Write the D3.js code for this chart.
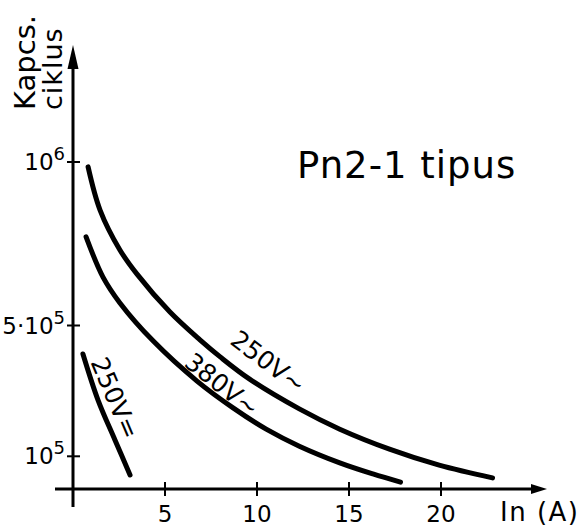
<!DOCTYPE html>
<html>
<head>
<meta charset="utf-8">
<script src="https://cdn.jsdelivr.net/npm/d3@7"></script>
<style>
  body { margin: 0; background: #fff; }
  svg { display: block; }
  text { font-family: "DejaVu Sans", sans-serif; fill: #000; }
</style>
</head>
<body>
<svg id="chart" width="585" height="527"></svg>
<script>
// tick values and labels
const xTicks = [5, 10, 15, 20];
const yTicks = [1e6, 5e5, 1e5];
const yTickBase = ['10', '5·10', '10'];
const yTickExp = ['6', '5', '5'];

// curves: current In (A) vs. switching cycles
const seriesNames = ['250V~', '380V~', '250V='];
const ac250Current = [0.82, 1.47, 2.55, 3.48, 5.27, 6.9, 8.0, 9.6, 12.3, 14.5, 17.2, 19.9, 22.8];
const ac250Cycles = [985000, 853000, 731000, 657000, 541000, 456000, 404000, 336000, 245000, 183000, 122000, 73000, 34000];
const ac380Current = [0.71, 1.63, 2.55, 4.35, 6.74, 8.7, 10.5, 12.3, 14.5, 16.3, 17.8];
const ac380Cycles = [771000, 648000, 569000, 453000, 330000, 248000, 183000, 131000, 80000, 46000, 21000];
const dc250Current = [0.54, 1.36, 2.28, 3.1];
const dc250Cycles = [413000, 272000, 150000, 43000];

const svg = d3.select('#chart');

const x = d3.scaleLinear().domain([0, 20]).range([73, 441]);
const y = d3.scaleLinear().domain([0, 1e6]).range([489, 162]);

const x0 = x(0), y0 = y(0);
const xEnd = 547, yTop = 45;

// axes lines with arrows
svg.append('line')
  .attr('x1', x0 - 18).attr('y1', y0).attr('x2', xEnd - 8).attr('y2', y0)
  .attr('stroke', '#000').attr('stroke-width', 3);
svg.append('path')
  .attr('d', `M${xEnd},${y0} L${xEnd - 16},${y0 - 5} L${xEnd - 16},${y0 + 5} Z`)
  .attr('fill', '#000');

svg.append('line')
  .attr('x1', x0).attr('y1', y0 + 18).attr('x2', x0).attr('y2', yTop + 12)
  .attr('stroke', '#000').attr('stroke-width', 3);
svg.append('path')
  .attr('d', `M${x0},${yTop} L${x0 - 5.5},${yTop + 24} L${x0 + 5.5},${yTop + 24} Z`)
  .attr('fill', '#000');

// x ticks
const xAxis = svg.append('g');
xTicks.forEach((t) => {
  xAxis.append('line')
    .attr('x1', x(t)).attr('x2', x(t)).attr('y1', y0 - 7).attr('y2', y0 + 7)
    .attr('stroke', '#000').attr('stroke-width', 2);
  xAxis.append('text')
    .attr('x', x(t)).attr('y', 522)
    .attr('text-anchor', 'middle')
    .attr('font-size', 23)
    .text(t);
});

// y ticks
const yAxis = svg.append('g');
yTicks.forEach((t, i) => {
  yAxis.append('line')
    .attr('x1', x0 - 6).attr('x2', x0 + 7).attr('y1', y(t)).attr('y2', y(t))
    .attr('stroke', '#000').attr('stroke-width', 2);
  const lbl = yAxis.append('text')
    .attr('x', x0 - 8).attr('y', y(t) + 8)
    .attr('text-anchor', 'end')
    .attr('font-size', 23);
  lbl.append('tspan').text(yTickBase[i]);
  lbl.append('tspan').attr('dy', -10).attr('font-size', 18).text(yTickExp[i]);
});

// axis titles
svg.append('text')
  .attr('transform', 'translate(35,110) rotate(-90)')
  .attr('text-anchor', 'start')
  .attr('font-size', 29)
  .text('Kapcs.');
svg.append('text')
  .attr('transform', 'translate(62,110) rotate(-90)')
  .attr('text-anchor', 'start')
  .attr('font-size', 27)
  .attr('letter-spacing', 1)
  .text('ciklus');

svg.append('text')
  .attr('x', 500).attr('y', 521)
  .attr('font-size', 26)
  .attr('letter-spacing', 1.5)
  .text('In (A)');

svg.append('text')
  .attr('x', 297).attr('y', 178)
  .attr('font-size', 37)
  .attr('letter-spacing', 1)
  .text('Pn2-1 tipus');

// curves
const series = [
  { name: seriesNames[0], pts: d3.zip(ac250Current, ac250Cycles) },
  { name: seriesNames[1], pts: d3.zip(ac380Current, ac380Cycles) },
  { name: seriesNames[2], pts: d3.zip(dc250Current, dc250Cycles) },
];

const line = d3.line()
  .x((d) => x(d[0]))
  .y((d) => y(d[1]))
  .curve(d3.curveCatmullRom.alpha(0.5));

svg.append('g')
  .selectAll('path')
  .data(series)
  .join('path')
  .attr('d', (d) => line(d.pts))
  .attr('fill', 'none')
  .attr('stroke', '#000')
  .attr('stroke-width', 5)
  .attr('stroke-linecap', 'round');

// curve labels
const labelPos = [
  { at: [10.6, 388000], angle: 37 },
  { at: [8.1, 318000], angle: 38 },
  { at: [2.28, 278000], angle: 67 },
];
labelPos.forEach((p, i) => {
  const lx = x(p.at[0]), ly = y(p.at[1]);
  svg.append('text')
    .attr('transform', `translate(${lx},${ly}) rotate(${p.angle})`)
    .attr('text-anchor', 'middle')
    .attr('dominant-baseline', 'central')
    .attr('font-size', 25)
    .text(seriesNames[i]);
});
</script>
</body>
</html>
